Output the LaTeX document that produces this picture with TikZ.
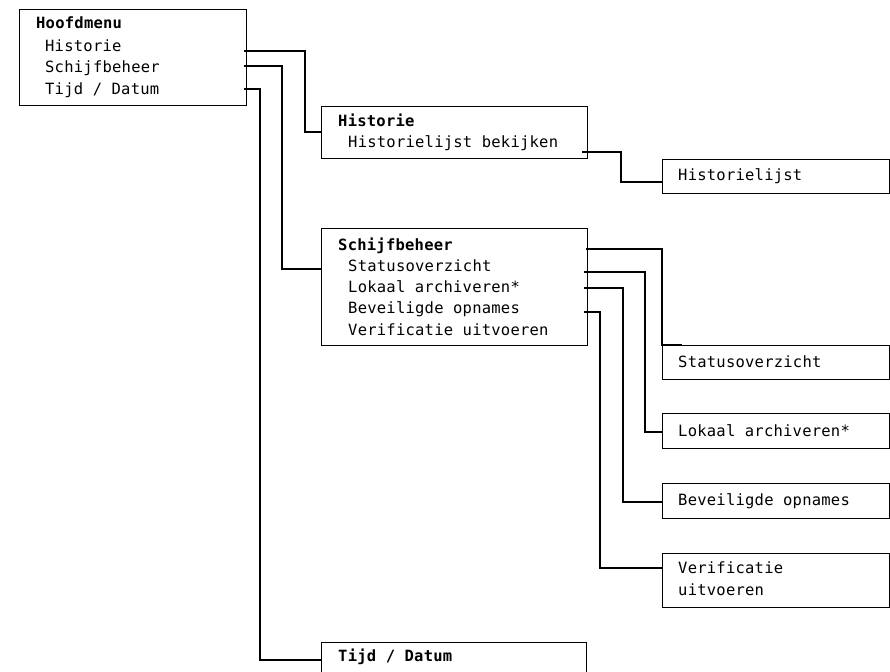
\documentclass[tikz,border=0pt]{standalone}
\usepackage{fontspec}
\newfontfamily\mono[LetterSpace=1.5]{DejaVu Sans Mono}
\begin{document}
\begin{tikzpicture}[x=1pt,y=-1pt,
  box/.style={draw, line width=0.9pt, inner sep=0pt},
  txt/.style={anchor=base west, inner sep=0pt, font=\mono\fontsize{15.5}{18}\selectfont},
  ttl/.style={txt, font=\mono\bfseries\fontsize{15.5}{18}\selectfont},
  conn/.style={line width=2pt}]
\useasboundingbox (0,0) rectangle (890,671);
% boxes
\node[box, minimum width=227pt, minimum height=96pt] (hoofd) at (132.5,57) {};
\node[box, minimum width=266pt, minimum height=52pt] (hist) at (454,132) {};
\node[box, minimum width=266pt, minimum height=117pt] (schijf) at (454,286.5) {};
\node[box, minimum width=265pt, minimum height=36pt] (tijd) at (454,660) {};
\node[box, minimum width=227pt, minimum height=34pt] (histl) at (775.5,176) {};
\node[box, minimum width=227pt, minimum height=34pt] (status) at (775.5,362) {};
\node[box, minimum width=227pt, minimum height=35pt] (lokaal) at (775.5,430.5) {};
\node[box, minimum width=227pt, minimum height=35pt] (bevei) at (775.5,500.5) {};
\node[box, minimum width=227pt, minimum height=54pt] (verif) at (775.5,580) {};
% texts
\node[ttl] (t1) at (36,29) {Hoofdmenu};
\node[txt] (t2) at (45,51.5) {Historie};
\node[txt] (t3) at (45,73) {Schijfbeheer};
\node[txt] (t4) at (45,94.5) {Tijd / Datum};
\node[ttl] (t5) at (338,127) {Historie};
\node[txt] (t6) at (348,148) {Historielijst bekijken};
\node[ttl] (t7) at (338,250) {Schijfbeheer};
\node[txt] (t8) at (348,271) {Statusoverzicht};
\node[txt] (t9) at (348,292) {Lokaal archiveren*};
\node[txt] (t10) at (348,313.5) {Beveiligde opnames};
\node[txt] (t11) at (348,335) {Verificatie uitvoeren};
\node[ttl] (t12) at (338,661) {Tijd / Datum};
\node[txt] (t13) at (678,180) {Historielijst};
\node[txt] (t14) at (678,367) {Statusoverzicht};
\node[txt] (t15) at (678,436) {Lokaal archiveren*};
\node[txt] (t16) at (678,505) {Beveiligde opnames};
\node[txt] (t17) at (678,573) {Verificatie};
\node[txt] (t18) at (678,595) {uitvoeren};
% connector start points
\coordinate (h1) at (244,51);
\coordinate (h2) at (244,66);
\coordinate (h3) at (244,89);
\coordinate (hs) at (582,152);
\coordinate (s0) at (586,249);
\coordinate (s1) at (584,272);
\coordinate (s2) at (584,288);
\coordinate (s3) at (584,312);
% connectors
\draw[conn] (h1) -| (305,132) -- (hist.west);
\draw[conn] (h2) -| (282,269) -- (schijf.west |- 0,269);
\draw[conn] (h3) -| (260,660) -- (tijd.west);
\draw[conn] (hs) -| (621,182) -- (histl.west |- 0,182);
\draw[conn] (s0) -| (status.north west) -- ++(20,0);
\draw[conn] (s1) -| (645,432) -- (lokaal.west |- 0,432);
\draw[conn] (s2) -| (623,502) -- (bevei.west |- 0,502);
\draw[conn] (s3) -| (600,568) -- (verif.west |- 0,568);
\end{tikzpicture}
\end{document}
